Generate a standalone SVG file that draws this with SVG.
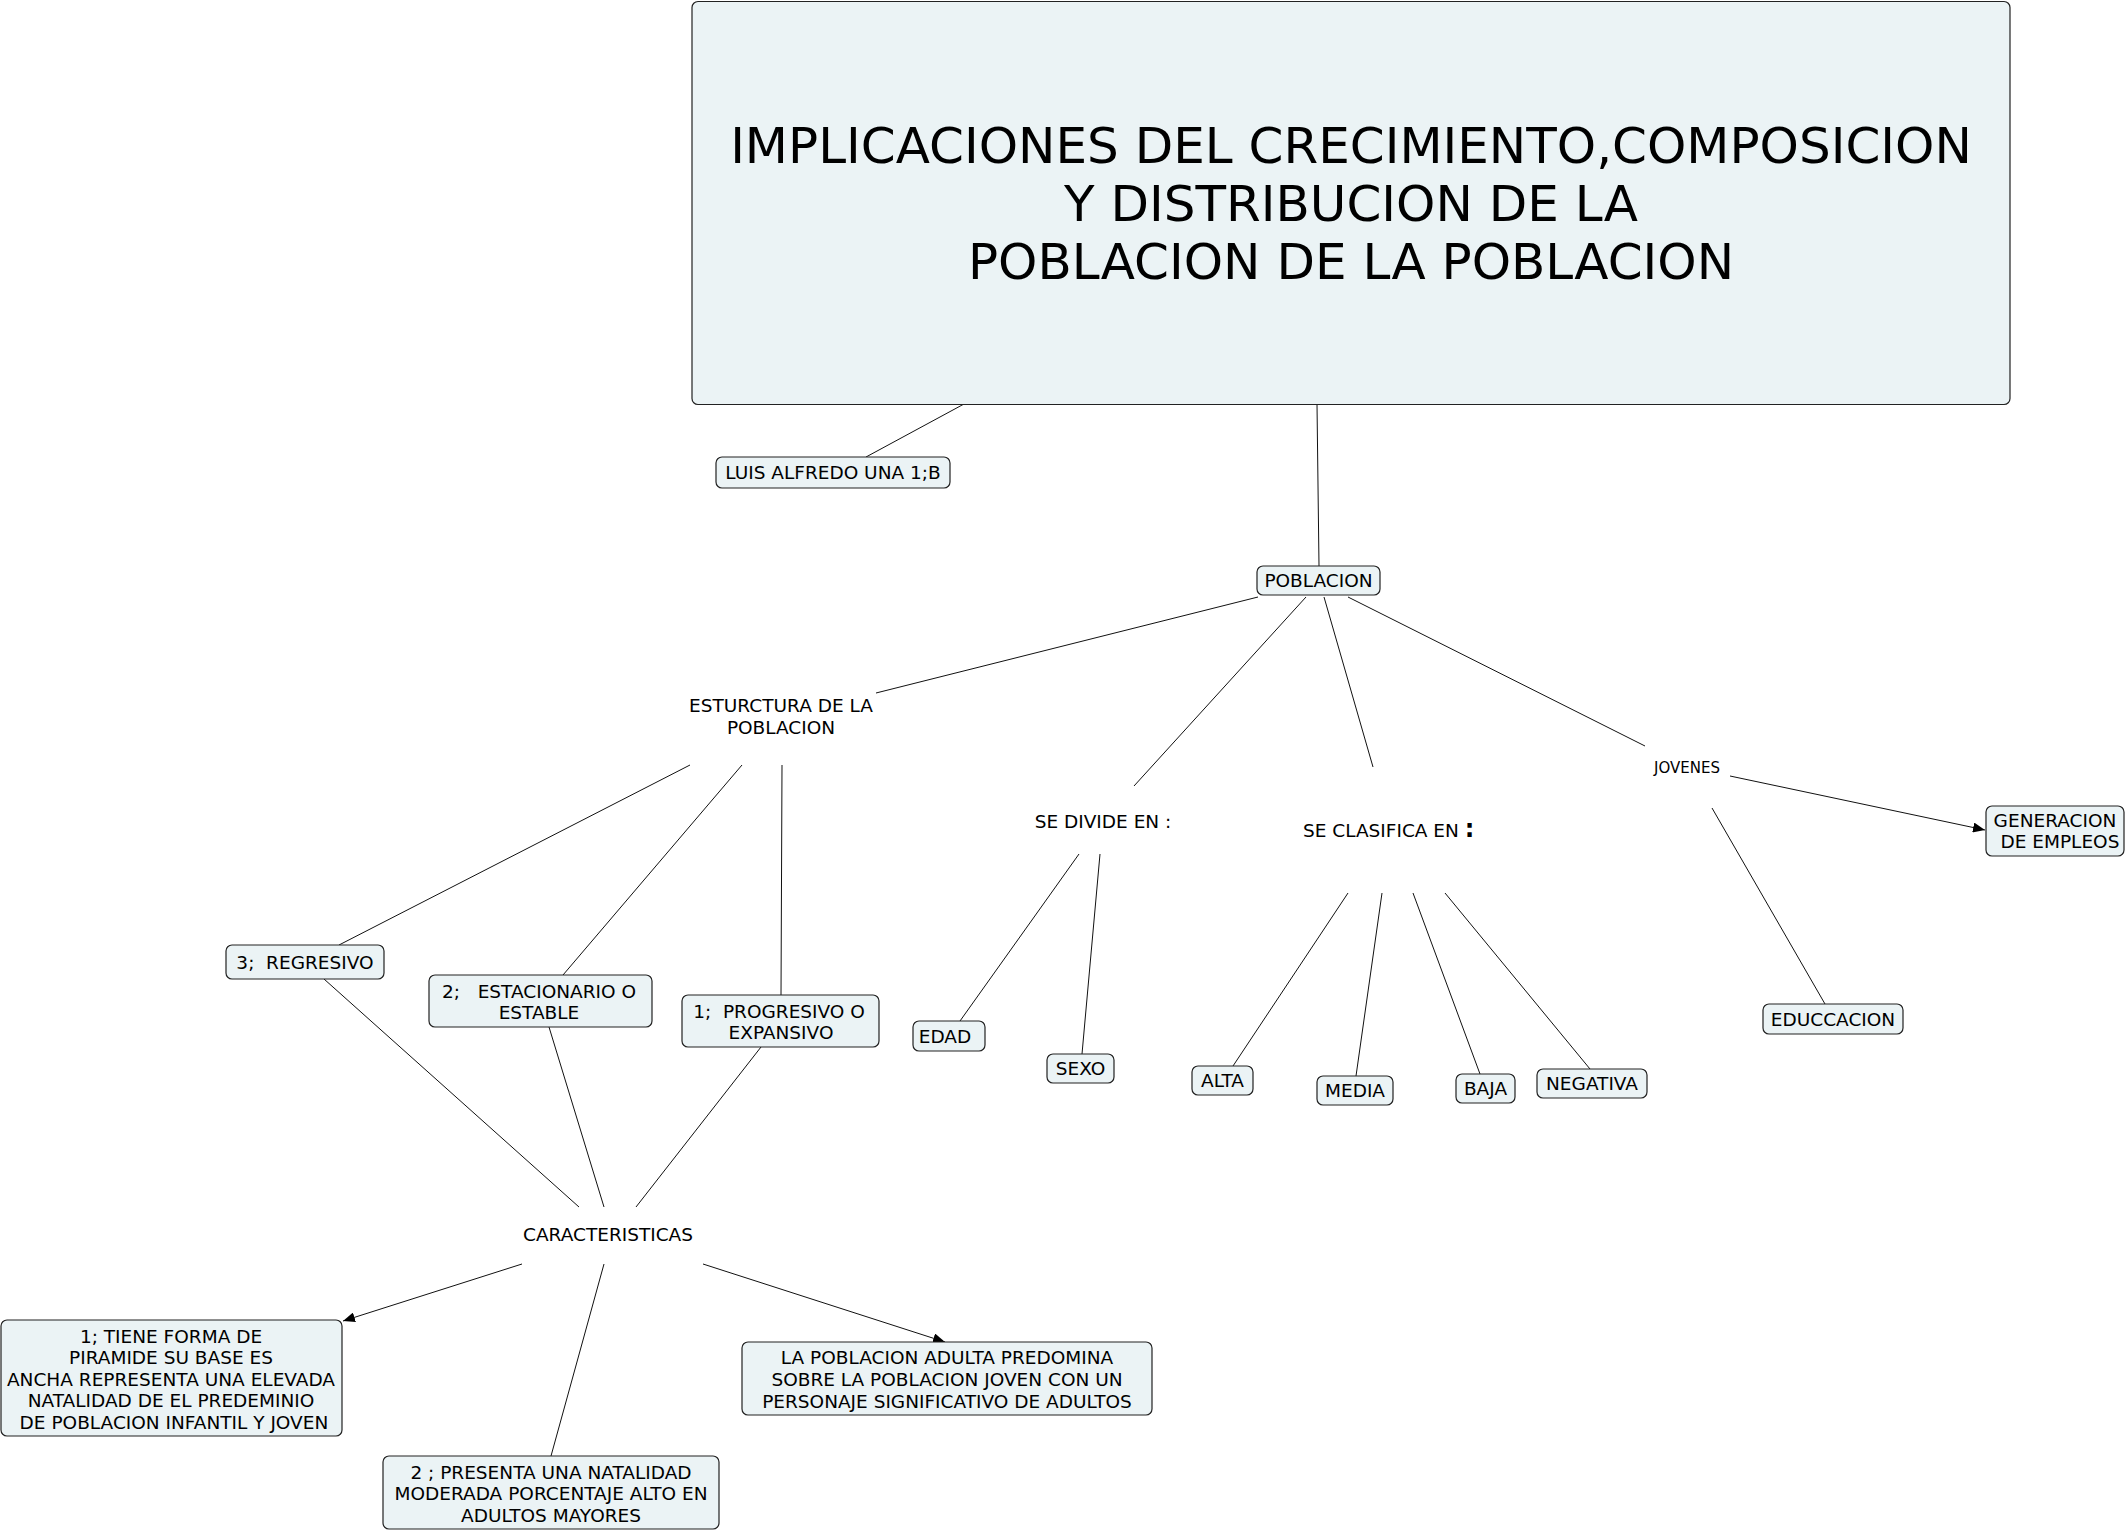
<svg xmlns="http://www.w3.org/2000/svg" width="2127" height="1532" viewBox="0 0 2127 1532">
<style>
text{font-family:"DejaVu Sans","Liberation Sans",sans-serif;font-size:18.5px;fill:#000;white-space:pre}
.box{fill:#ebf3f5;stroke:#222;stroke-width:1.2}
.c{text-anchor:middle}
.ln{stroke:#111;stroke-width:1;fill:none}
.title{font-size:50px}
</style>
<defs>
<marker id="ah" markerUnits="userSpaceOnUse" markerWidth="12" markerHeight="10" refX="12" refY="5" orient="auto">
<path d="M0,0 L12,5 L0,10 z" fill="#000"/>
</marker>
</defs>
<rect width="2127" height="1532" fill="#fff"/>
<g id="connectors">
<line class="ln" x1="964" y1="404" x2="866" y2="457"/>
<line class="ln" x1="1317" y1="404" x2="1319" y2="566"/>
<line class="ln" x1="1258" y1="597" x2="876" y2="693"/>
<line class="ln" x1="1306" y1="597" x2="1134" y2="786"/>
<line class="ln" x1="1324" y1="597" x2="1373" y2="767"/>
<line class="ln" x1="1348" y1="597" x2="1645" y2="746"/>
<line class="ln" x1="690" y1="765" x2="339" y2="945"/>
<line class="ln" x1="742" y1="765" x2="563" y2="975"/>
<line class="ln" x1="782" y1="765" x2="781" y2="995"/>
<line class="ln" x1="324" y1="979" x2="579" y2="1207"/>
<line class="ln" x1="549" y1="1027" x2="604" y2="1207"/>
<line class="ln" x1="761" y1="1047" x2="636" y2="1207"/>
<line class="ln" x1="522" y1="1264" x2="343" y2="1321" marker-end="url(#ah)"/>
<line class="ln" x1="604" y1="1264" x2="551" y2="1456"/>
<line class="ln" x1="703" y1="1264" x2="945" y2="1342" marker-end="url(#ah)"/>
<line class="ln" x1="1079" y1="854" x2="960" y2="1021"/>
<line class="ln" x1="1100" y1="854" x2="1082" y2="1054"/>
<line class="ln" x1="1348" y1="893" x2="1233" y2="1066"/>
<line class="ln" x1="1382" y1="893" x2="1356" y2="1076"/>
<line class="ln" x1="1413" y1="893" x2="1480" y2="1074"/>
<line class="ln" x1="1445" y1="893" x2="1590" y2="1069"/>
<line class="ln" x1="1730" y1="776" x2="1985" y2="830" marker-end="url(#ah)"/>
<line class="ln" x1="1712" y1="808" x2="1825" y2="1004"/>
</g>
<g id="main">
<rect class="box" x="692" y="1.5" width="1318" height="403" rx="6"/>
<text class="c title" x="1351" y="163">IMPLICACIONES DEL CRECIMIENTO,COMPOSICION</text>
<text class="c title" x="1351" y="221">Y DISTRIBUCION DE LA</text>
<text class="c title" x="1351" y="279">POBLACION DE LA POBLACION</text>
</g>
<g id="luis">
<rect class="box" x="716" y="457" width="234" height="31" rx="6"/>
<text class="c" x="833" y="479">LUIS ALFREDO UNA 1;B</text>
</g>
<g id="poblacion">
<rect class="box" x="1257" y="566" width="123" height="29" rx="6"/>
<text class="c" x="1318.5" y="587">POBLACION</text>
</g>
<g id="estructura">
<text class="c" x="781" y="712">ESTURCTURA DE LA</text>
<text class="c" x="781" y="734">POBLACION</text>
</g>
<g id="regresivo">
<rect class="box" x="226" y="945" width="158" height="34" rx="6"/>
<text class="c" x="305" y="968.5">3;  REGRESIVO</text>
</g>
<g id="estacionario">
<rect class="box" x="429" y="975" width="223" height="52" rx="6"/>
<text class="c" x="539" y="997.5">2;   ESTACIONARIO O</text>
<text class="c" x="539" y="1018.5">ESTABLE</text>
</g>
<g id="progresivo">
<rect class="box" x="682" y="995" width="197" height="52" rx="6"/>
<text class="c" x="779" y="1017.5">1;  PROGRESIVO O</text>
<text class="c" x="781" y="1038.5">EXPANSIVO</text>
</g>
<g id="caracteristicas">
<text class="c" x="608" y="1241">CARACTERISTICAS</text>
</g>
<g id="car1">
<rect class="box" x="1" y="1320" width="341" height="116" rx="6"/>
<text class="c" x="171" y="1342.5">1; TIENE FORMA DE</text>
<text class="c" x="171" y="1364">PIRAMIDE SU BASE ES</text>
<text class="c" x="171" y="1385.5">ANCHA REPRESENTA UNA ELEVADA</text>
<text class="c" x="171" y="1407">NATALIDAD DE EL PREDEMINIO</text>
<text class="c" x="171" y="1428.5"> DE POBLACION INFANTIL Y JOVEN</text>
</g>
<g id="car2">
<rect class="box" x="383" y="1456" width="336" height="73" rx="6"/>
<text class="c" x="551" y="1478.5">2 ; PRESENTA UNA NATALIDAD</text>
<text class="c" x="551" y="1499.5">MODERADA PORCENTAJE ALTO EN</text>
<text class="c" x="551" y="1521.5">ADULTOS MAYORES</text>
</g>
<g id="car3">
<rect class="box" x="742" y="1342" width="410" height="73" rx="6"/>
<text class="c" x="947" y="1363.5">LA POBLACION ADULTA PREDOMINA</text>
<text class="c" x="947" y="1385.5">SOBRE LA POBLACION JOVEN CON UN</text>
<text class="c" x="947" y="1407.5">PERSONAJE SIGNIFICATIVO DE ADULTOS</text>
</g>
<g id="divide">
<text class="c" x="1103" y="827.5">SE DIVIDE EN :</text>
</g>
<g id="edad">
<rect class="box" x="913" y="1021" width="72" height="30" rx="6"/>
<text class="c" x="945" y="1042.5">EDAD</text>
</g>
<g id="sexo">
<rect class="box" x="1047" y="1054" width="67" height="29" rx="6"/>
<text class="c" x="1080.5" y="1075">SEXO</text>
</g>
<g id="clasifica">
<text x="1303" y="836.5">SE CLASIFICA EN <tspan font-size="24" font-weight="bold">:</tspan></text>
</g>
<g id="alta">
<rect class="box" x="1192" y="1066" width="61" height="29" rx="6"/>
<text class="c" x="1222.5" y="1087">ALTA</text>
</g>
<g id="media">
<rect class="box" x="1317" y="1076" width="76" height="29" rx="6"/>
<text class="c" x="1355" y="1097">MEDIA</text>
</g>
<g id="baja">
<rect class="box" x="1456" y="1074" width="59" height="29" rx="6"/>
<text class="c" x="1485.5" y="1095">BAJA</text>
</g>
<g id="negativa">
<rect class="box" x="1537" y="1069" width="110" height="29" rx="6"/>
<text class="c" x="1592" y="1090">NEGATIVA</text>
</g>
<g id="jovenes">
<text class="c" x="1687" y="772.5" style="font-size:15px">JOVENES</text>
</g>
<g id="generacion">
<rect class="box" x="1986" y="806" width="138" height="50" rx="6"/>
<text class="c" x="2055" y="826.5">GENERACION</text>
<text class="c" x="2057" y="847.5"> DE EMPLEOS</text>
</g>
<g id="educcacion">
<rect class="box" x="1763" y="1004" width="140" height="30" rx="6"/>
<text class="c" x="1833" y="1025.5">EDUCCACION</text>
</g>
</svg>
